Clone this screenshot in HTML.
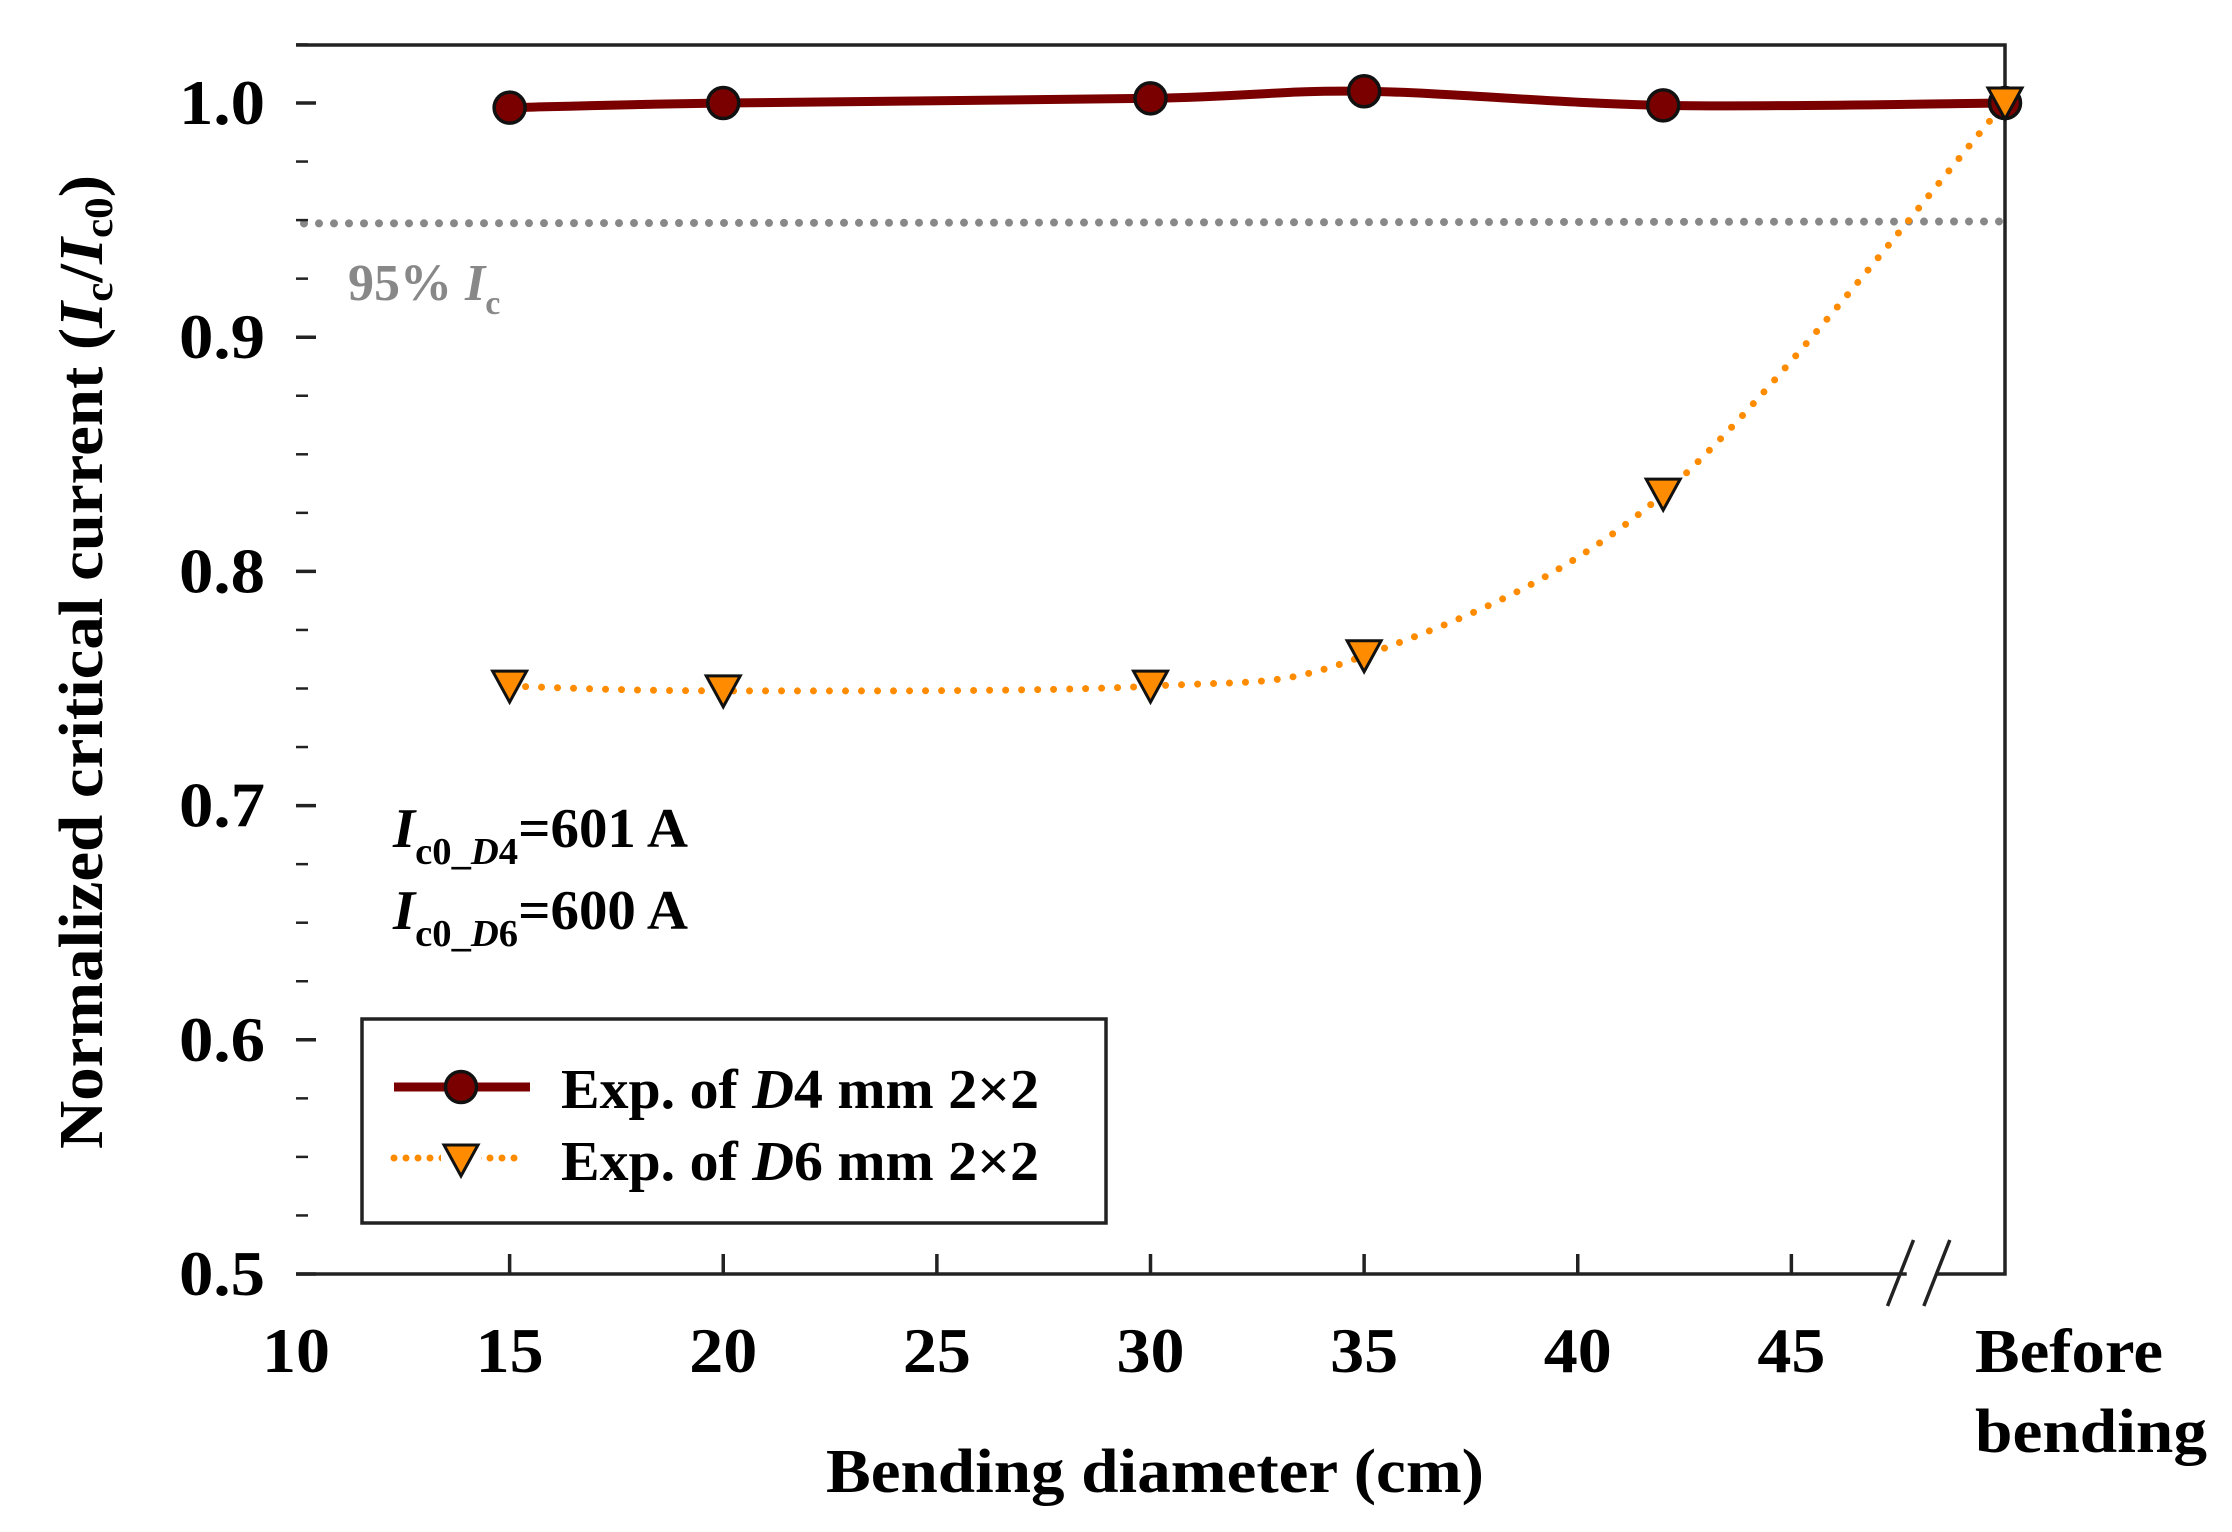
<!DOCTYPE html>
<html><head><meta charset="utf-8"><style>
html,body{margin:0;padding:0;background:#fff;}
svg{display:block;font-family:"Liberation Serif",serif;font-weight:bold;}
</style></head><body>
<svg id="chart" width="2232" height="1532" viewBox="0 0 2232 1532" xmlns="http://www.w3.org/2000/svg">
<g id="grid"></g>
</svg>
<script>
const xCats = [15, 20, 30, 35, 42, 50];
const d4Values = [0.998, 1.000, 1.002, 1.005, 0.999, 1.000];
const d6Values = [0.751, 0.749, 0.751, 0.764, 0.833, 1.000];
const xTickValues = [10, 15, 20, 25, 30, 35, 40, 45];
const yTickValues = [0.5, 0.6, 0.7, 0.8, 0.9, 1.0];
const yTickLabels = ["0.5", "0.6", "0.7", "0.8", "0.9", "1.0"];
const thresholdValue = 0.949;

const L = 296, R = 2005, T = 45, B = 1274;
function xs(v){ return L + (v - 10) * (R - L) / 40; }
function ys(v){ return B - (v - 0.5) * (B - 103) / 0.5; }
const NS = "http://www.w3.org/2000/svg";
const svg = document.getElementById('chart');
function mk(tag, attrs, parent){
  const e = document.createElementNS(NS, tag);
  for (const k in attrs) e.setAttribute(k, attrs[k]);
  (parent || svg).appendChild(e);
  return e;
}
function smooth(pts){
  let d = "M" + pts[0][0] + "," + pts[0][1];
  for (let i = 0; i < pts.length - 1; i++){
    const p0 = pts[Math.max(i-1,0)], p1 = pts[i], p2 = pts[i+1], p3 = pts[Math.min(i+2,pts.length-1)];
    const c1 = [p1[0] + (p2[0]-p0[0])/6, p1[1] + (p2[1]-p0[1])/6];
    const c2 = [p2[0] - (p3[0]-p1[0])/6, p2[1] - (p3[1]-p1[1])/6];
    d += " C" + c1 + " " + c2 + " " + p2;
  }
  return d;
}

// threshold line
let th = mk('line', {x1:L+8, x2:R-4, y1:ys(thresholdValue)+1, y2:ys(thresholdValue)-1, stroke:'#888', 'stroke-width':8, 'stroke-linecap':'round', 'stroke-dasharray':'0 15'});


let tt = mk('text', {x:348, y:300, 'font-size':52, fill:'#888'});


tt.innerHTML = '95% <tspan font-style="italic">I</tspan><tspan font-size="34" dy="14">c</tspan>';

// axes frame
let ax = mk('path', {d:`M${L},${T} H${R} V${B} H${xs(48.4)} M${xs(47.7)},${B} H${L} Z`, fill:'none', stroke:'#222', 'stroke-width':3.5});


for (const off of [0, 0.85]){
  let br = mk('line', {x1:xs(47.25+off), y1:B+32, x2:xs(47.25+off)+26, y2:B-34, stroke:'#222', 'stroke-width':3.5});
  
  
}

// y ticks
for (let i = 0; i < yTickValues.length; i++){
  const y = ys(yTickValues[i]);
  let t = mk('line', {x1:L, x2:L+20, y1:y, y2:y, stroke:'#222', 'stroke-width':3.5});
  
  
  if (i < yTickValues.length - 1){
    for (let k = 1; k < 4; k++){
      const ym = ys(yTickValues[i] + k * 0.025);
      let m = mk('line', {x1:L, x2:L+12, y1:ym, y2:ym, stroke:'#222', 'stroke-width':2.5});
      
      
    }
  }
  let lb = mk('text', {x:265, y:y+21, 'font-size':64, 'text-anchor':'end', textLength:86, lengthAdjust:'spacingAndGlyphs'});
  
  
  lb.textContent = yTickLabels[i];
}
let ym = mk('line', {x1:L, x2:L+12, y1:ys(1.025), y2:ys(1.025), stroke:'#222','stroke-width':2.5});



// x ticks
for (const v of xTickValues){
  const x = xs(v);
  if (v > 10){
    let t = mk('line', {x1:x, x2:x, y1:B, y2:B-20, stroke:'#222', 'stroke-width':3.5});
    
    
  }
  let lb = mk('text', {x:x, y:1372, 'font-size':64, 'text-anchor':'middle', textLength:68, lengthAdjust:'spacingAndGlyphs'});
  
  
  lb.textContent = v;
}
let bf = mk('text', {x:1975, y:1372, 'font-size':62, textLength:188, lengthAdjust:'spacingAndGlyphs'});


bf.textContent = 'Before';
let bd = mk('text', {x:1975, y:1452, 'font-size':62, textLength:232, lengthAdjust:'spacingAndGlyphs'});


bd.textContent = 'bending';

// axis titles
let xt = mk('text', {x:1155, y:1492, 'font-size':62, 'text-anchor':'middle', textLength:658, lengthAdjust:'spacingAndGlyphs'});


xt.textContent = 'Bending diameter (cm)';
let yt = mk('text', {x:0, y:0, 'font-size':62, 'text-anchor':'middle', transform:'translate(102,662) rotate(-90)', textLength:974, lengthAdjust:'spacingAndGlyphs'});


yt.innerHTML = 'Normalized critical current (<tspan font-style="italic">I</tspan><tspan font-size="40" dy="10">c</tspan><tspan dy="-10">/</tspan><tspan font-style="italic">I</tspan><tspan font-size="40" dy="10">c0</tspan><tspan dy="-10">)</tspan>';

// series
const d4Pts = xCats.map((c,i)=>[xs(c), ys(d4Values[i])]);
const d6Pts = xCats.map((c,i)=>[xs(c), ys(d6Values[i])]);
let l6 = mk('path', {d:smooth(d6Pts), fill:'none', stroke:'#ff8c00', 'stroke-width':7, 'stroke-linecap':'round', 'stroke-dasharray':'0 16'});


let l4 = mk('path', {d:smooth(d4Pts), fill:'none', stroke:'#7a0000', 'stroke-width':9});


function tri(x,y,parent){
  return mk('path', {d:`M${x-17},${y-15} H${x+17} L${x},${y+16} Z`, fill:'#ff8c00', stroke:'#111', 'stroke-width':3}, parent);
}
for (const p of d4Pts){
  let c = mk('circle', {cx:p[0], cy:p[1], r:15.5, fill:'#7a0000', stroke:'#111', 'stroke-width':3.5});
  
  
}
for (const p of d6Pts){
  let t = tri(p[0], p[1]);
  
  
}

// annotations
let a1 = mk('text', {x:393, y:847, 'font-size':56, textLength:295, lengthAdjust:'spacingAndGlyphs'});


a1.innerHTML = '<tspan font-style="italic">I</tspan><tspan font-size="38" dy="17">c0_<tspan font-style="italic">D</tspan>4</tspan><tspan dy="-17">=601 A</tspan>';
let a2 = mk('text', {x:393, y:929, 'font-size':56, textLength:295, lengthAdjust:'spacingAndGlyphs'});


a2.innerHTML = '<tspan font-style="italic">I</tspan><tspan font-size="38" dy="17">c0_<tspan font-style="italic">D</tspan>6</tspan><tspan dy="-17">=600 A</tspan>';

// legend
let lg = mk('g', {});


mk('rect', {x:362, y:1019, width:744, height:204, fill:'#fff', stroke:'#222', 'stroke-width':3.5}, lg);
let e1 = mk('g', {}, lg);


mk('line', {x1:394, x2:530, y1:1087, y2:1087, stroke:'#7a0000', 'stroke-width':9}, e1);
mk('circle', {cx:461, cy:1087, r:15.5, fill:'#7a0000', stroke:'#111', 'stroke-width':3.5}, e1);
let t1 = mk('text', {x:561, y:1108, 'font-size':56, textLength:478, lengthAdjust:'spacingAndGlyphs'}, e1);
t1.innerHTML = 'Exp. of <tspan font-style="italic">D</tspan>4 mm 2×2';
let e2 = mk('g', {}, lg);


mk('line', {x1:394, x2:520, y1:1158, y2:1158, stroke:'#ff8c00', 'stroke-width':7, 'stroke-linecap':'round', 'stroke-dasharray':'0 12'}, e2);
mk('rect', {x:441, y:1138, width:40, height:40, fill:'#fff'}, e2);
tri(461, 1160, e2);
let t2 = mk('text', {x:561, y:1180, 'font-size':56, textLength:478, lengthAdjust:'spacingAndGlyphs'}, e2);
t2.innerHTML = 'Exp. of <tspan font-style="italic">D</tspan>6 mm 2×2';
</script>
</body></html>
